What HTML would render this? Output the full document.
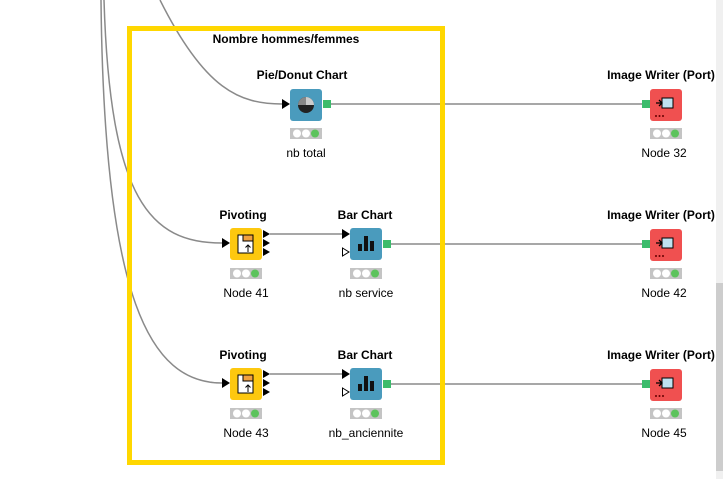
<!DOCTYPE html>
<html><head><meta charset="utf-8"><style>
html,body{margin:0;padding:0;background:#fff;width:723px;height:479px;overflow:hidden}
svg{display:block}
text{font-family:"Liberation Sans",Arial,sans-serif;font-size:12px;fill:#000}
.t{font-weight:bold}
</style></head><body>
<svg width="723" height="479" viewBox="0 0 723 479">
<rect x="716" y="0" width="7" height="479" fill="#f0f0f0"/>
<rect x="716" y="283" width="7" height="188" fill="#cdcdcd"/>
<g fill="none" stroke="#8a8a8a" stroke-width="1.5">
<path d="M104,0 C110,200 150,243 222,243"/>
<path d="M101,0 C104,300 150,383 222,383"/>
<path d="M160,0 C205,90 240,104 282,104"/>
<path d="M331,104 H642"/>
<path d="M270,234 H342"/><path d="M391,244 H642"/>
<path d="M270,374 H342"/><path d="M391,384 H642"/>
</g>
<rect x="129.5" y="28.5" width="313" height="434" fill="none" stroke="#ffd700" stroke-width="5"/>
<text x="286" y="43" text-anchor="middle" class="t">Nombre hommes/femmes</text>

<!-- Pie -->
<text x="302" y="79" text-anchor="middle" class="t">Pie/Donut Chart</text>
<polygon points="282,99 290,104 282,109" fill="#000"/>
<rect x="290" y="89" width="32" height="32" rx="3" fill="#4a9bbd"/>
<circle cx="306" cy="105" r="8" fill="#222"/>
<path d="M306,105 V97 A8,8 0 0 1 314,105 Z" fill="#ccc"/>
<path d="M306,105 L298,105 A8,8 0 0 1 306,97 Z" fill="#888"/>
<rect x="323" y="100" width="8" height="8" fill="#3cbc6c"/>
<g id="tl"><rect x="290" y="128" width="32" height="11" fill="#c4c4c4"/>
<circle cx="297" cy="133.5" r="4" fill="#fff"/><circle cx="306" cy="133.5" r="4" fill="#fff"/><circle cx="315" cy="133.5" r="4" fill="#5cc35c"/></g>
<text x="306" y="157" text-anchor="middle">nb total</text>

<!-- writers -->
<g id="w">
<text x="661" y="79" text-anchor="middle" class="t">Image Writer (Port)</text>
<rect x="650" y="89" width="32" height="32" rx="3" fill="#f05050"/>
<rect x="662" y="98" width="11" height="10" fill="#bfe2f0" stroke="#000" stroke-width="1"/>
<path d="M656,103 H662 M659,100 L662,103 L659,106" stroke="#000" stroke-width="1.3" fill="none"/>
<circle cx="656" cy="116" r="1" fill="#600"/><circle cx="659.5" cy="116" r="1" fill="#600"/><circle cx="663" cy="116" r="1" fill="#600"/>
<rect x="642" y="100" width="8" height="8" fill="#3cbc6c"/>
<rect x="650" y="128" width="32" height="11" fill="#c4c4c4"/>
<circle cx="657" cy="133.5" r="4" fill="#fff"/><circle cx="666" cy="133.5" r="4" fill="#fff"/><circle cx="675" cy="133.5" r="4" fill="#5cc35c"/>
</g>
<text x="664" y="157" text-anchor="middle">Node 32</text>
<use href="#w" y="140"/><text x="664" y="297" text-anchor="middle">Node 42</text>
<use href="#w" y="280"/><text x="664" y="437" text-anchor="middle">Node 45</text>

<!-- row -->
<g id="r">
<text x="243" y="219" text-anchor="middle" class="t">Pivoting</text>
<polygon points="222,238 230,243 222,248" fill="#000"/>
<rect x="230" y="228" width="32" height="32" rx="3" fill="#fdc80f"/>
<rect x="238" y="235" width="15" height="18" fill="#fff" stroke="#000" stroke-width="1"/>
<rect x="243" y="235" width="10" height="6" fill="#f0a040" stroke="#000" stroke-width="1"/>
<path d="M248,252 V245 M245.5,247.5 L248,245 L250.5,247.5" stroke="#000" fill="none"/>
<polygon points="263,230 270,234 263,238" fill="#000"/>
<polygon points="263,239 270,243 263,247" fill="#000"/>
<polygon points="263,248 270,252 263,256" fill="#000"/>
<rect x="230" y="268" width="32" height="11" fill="#c4c4c4"/>
<circle cx="237" cy="273.5" r="4" fill="#fff"/><circle cx="246" cy="273.5" r="4" fill="#fff"/><circle cx="255" cy="273.5" r="4" fill="#5cc35c"/>
<text x="365" y="219" text-anchor="middle" class="t">Bar Chart</text>
<polygon points="342,229 350,234 342,239" fill="#000"/>
<polygon points="342.5,248 349,252 342.5,256" fill="#fff" stroke="#000"/>
<rect x="350" y="228" width="32" height="32" rx="3" fill="#4a9bbd"/>
<rect x="358" y="244" width="4" height="7" fill="#111"/><rect x="364" y="236" width="4" height="15" fill="#111"/><rect x="370" y="241" width="4" height="10" fill="#111"/>
<rect x="383" y="240" width="8" height="8" fill="#3cbc6c"/>
<rect x="350" y="268" width="32" height="11" fill="#c4c4c4"/>
<circle cx="357" cy="273.5" r="4" fill="#fff"/><circle cx="366" cy="273.5" r="4" fill="#fff"/><circle cx="375" cy="273.5" r="4" fill="#5cc35c"/>
</g>
<text x="246" y="297" text-anchor="middle">Node 41</text>
<text x="366" y="297" text-anchor="middle">nb service</text>
<use href="#r" y="140"/>
<text x="246" y="437" text-anchor="middle">Node 43</text>
<text x="366" y="437" text-anchor="middle">nb_anciennite</text>
</svg>
</body></html>
